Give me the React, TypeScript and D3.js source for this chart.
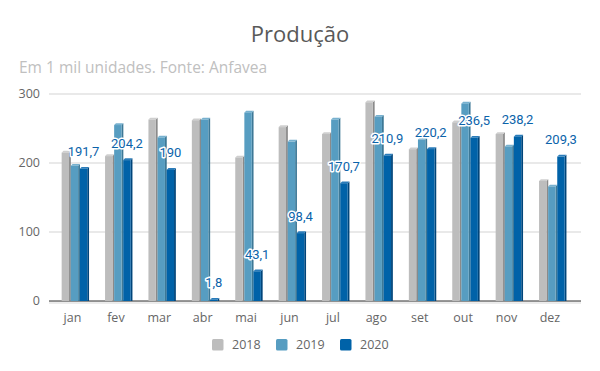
import React from "react";
import * as d3 from "d3";

const months = ["jan", "fev", "mar", "abr", "mai", "jun", "jul", "ago", "set", "out", "nov", "dez"];
const years = ["2018", "2019", "2020"];
const v2018 = [215, 210, 263, 262, 208, 252, 242, 288, 220, 259, 242, 174];
const v2019 = [196, 255, 237, 263, 273, 231, 263, 267, 234, 286, 224, 166];
const v2020 = [191.7, 204.2, 190, 1.8, 43.1, 98.4, 170.7, 210.9, 220.2, 236.5, 238.2, 209.3];
const yTicks = [0, 100, 200, 300];

const colors = ["#bdbdbd", "#579dc1", "#0062a8"];
const sideColors = ["#8a8a8a", "#3d7896", "#00457a"];
const topColors = ["#cfcfcf", "#77b1cf", "#2a7cba"];

const W = 600;
const H = 371;

export default function App() {
  const series = [v2018, v2019, v2020];
  const x = d3.scaleBand<string>().domain(months).range([50.8, 571.6]).paddingInner(0).paddingOuter(0);
  const y = d3.scaleLinear().domain([0, 300]).range([301, 94]);
  const step = 9.1;
  const frontW = 7.4;
  const d = 1.8;
  const fmt = (v: number) => String(v).replace(".", ",");
  const font = "'Open Sans', sans-serif";

  return (
    <svg width={W} height={H} style={{ position: "absolute", left: 0, top: 0 }} xmlns="http://www.w3.org/2000/svg">
      <rect x={0} y={0} width={W} height={H} fill="#fff" />
      <text x={300} y={42} textAnchor="middle" fontFamily={font} fontSize={22} fill="#595959">Produção</text>
      <text x={19} y={73} fontFamily={font} fontSize={15.5} fill="#c0c0c0">Em 1 mil unidades. Fonte: Anfavea</text>

      {yTicks.map((t) => (
        <g key={t}>
          {t > 0 && <line x1={49} x2={581} y1={y(t)} y2={y(t)} stroke="#d3d3d3" strokeWidth={1} />}
          <text x={40} y={y(t)} dy="0.35em" textAnchor="end" fontFamily={font} fontSize={12.5} fill="#666">{t}</text>
        </g>
      ))}
      <rect x={49} y={301} width={532} height={3} fill="#ececec" />
      <line x1={49} x2={581} y1={301} y2={301} stroke="#333" strokeWidth={1.2} />

      {months.map((m, i) => {
        const bx = (x(m) as number) + (x.bandwidth() - 3 * step) / 2 + 2.8;
        return (
          <g key={m}>
            {series.map((s, k) => {
              const x0 = bx + k * step;
              const top = y(s[i]);
              const base = y(0);
              return (
                <g key={k}>
                  <polygon
                    points={`${x0 + frontW},${top} ${x0 + frontW + d},${top - d} ${x0 + frontW + d},${base} ${x0 + frontW},${base}`}
                    fill={sideColors[k]}
                  />
                  <polygon
                    points={`${x0},${top} ${x0 + d},${top - d} ${x0 + frontW + d},${top - d} ${x0 + frontW},${top}`}
                    fill={topColors[k]}
                  />
                  <rect x={x0} y={top} width={frontW} height={base - top} fill={colors[k]} />
                </g>
              );
            })}
            <text
              x={(x(m) as number) + x.bandwidth() / 2}
              y={322}
              textAnchor="middle"
              fontFamily={font}
              fontSize={12.5}
              fill="#666"
            >
              {m}
            </text>
          </g>
        );
      })}

      {months.map((m, i) => {
        const bx = (x(m) as number) + (x.bandwidth() - 3 * step) / 2 + 2.8;
        const cx = bx + 2 * step + frontW / 2;
        const ty = y(v2020[i]) - 12.5;
        return (
          <text
            key={"l" + m}
            x={cx}
            y={ty}
            textAnchor="middle"
            fontFamily="Roboto, sans-serif"
            fontSize={13}
            fill="#0b63aa"
            stroke="#fff"
            strokeWidth={3}
            paintOrder="stroke"
            strokeLinejoin="round"
          >
            {fmt(v2020[i])}
          </text>
        );
      })}

      {years.map((yr, k) => {
        const lx = 212 + k * 64;
        return (
          <g key={yr}>
            <rect x={lx} y={339} width={11.5} height={11.5} rx={1.5} fill={colors[k]} />
            <text x={lx + 20} y={348.5} fontFamily={font} fontSize={12.5} fill="#666">{yr}</text>
          </g>
        );
      })}
    </svg>
  );
}
